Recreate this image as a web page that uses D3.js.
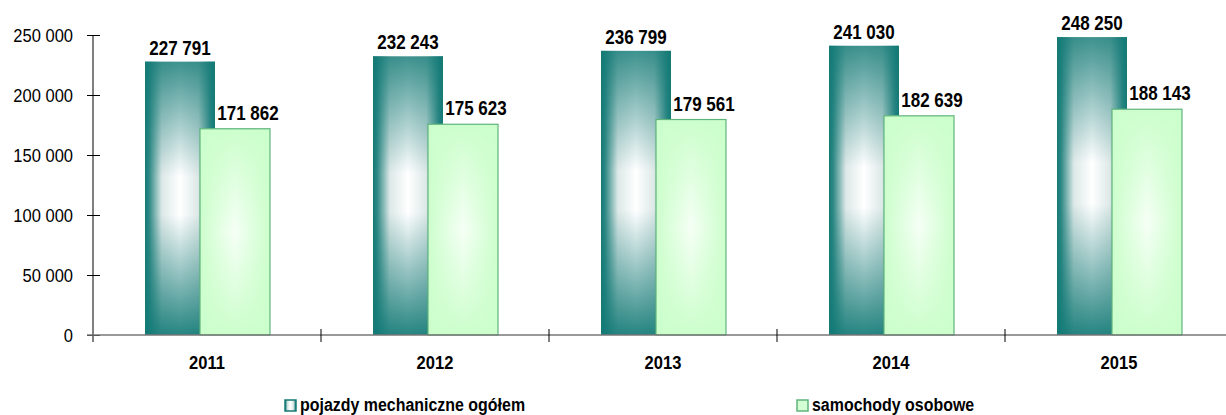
<!DOCTYPE html>
<html>
<head>
<meta charset="utf-8">
<script src="https://cdn.jsdelivr.net/npm/d3@7"></script>
<style>
  body { margin: 0; background: #fff; }
  text { font-family: "Liberation Sans", Arial, sans-serif; }
</style>
</head>
<body>
<script>
var width = 1226;
var height = 415;

var years = ["2011", "2012", "2013", "2014", "2015"];
var pojazdy = [227791, 232243, 236799, 241030, 248250];
var samochody = [171862, 175623, 179561, 182639, 188143];
var yTicks = [0, 50000, 100000, 150000, 200000, 250000];
var seriesNames = ["pojazdy mechaniczne ogółem", "samochody osobowe"];

var fmt = function (v) {
  return d3.format(",")(v).replace(/,/g, " ");
};

var x = d3.scaleBand().domain(years).range([93, 1233]);
var y = d3.scaleLinear().domain([0, 250000]).range([335, 35]);

var svg = d3.select("body").append("svg")
  .attr("width", width)
  .attr("height", height);

var defs = svg.append("defs");
var teal = "#137a76";
var mint = "#ccfecc";

// dark bar: teal at the edges, white in the middle (hourglass look)
var gh = defs.append("linearGradient").attr("id", "tealH")
  .attr("x1", 0).attr("x2", 1).attr("y1", 0).attr("y2", 0);
[[0, teal], [0.06, "#2f8985"], [0.24, "#dce8e7"], [0.5, "#ffffff"], [0.76, "#dce8e7"], [0.94, "#2f8985"], [1, teal]]
  .forEach(function (s) { gh.append("stop").attr("offset", s[0]).attr("stop-color", s[1]); });

var gv = defs.append("linearGradient").attr("id", "tealV")
  .attr("x1", 0).attr("x2", 0).attr("y1", 0).attr("y2", 1);
[[0, 0.82], [0.42, 0], [0.56, 0], [1, 0.92]]
  .forEach(function (s) {
    gv.append("stop").attr("offset", s[0]).attr("stop-color", teal).attr("stop-opacity", s[1]);
  });

var lh = defs.append("linearGradient").attr("id", "greenH")
  .attr("x1", 0).attr("x2", 1).attr("y1", 0).attr("y2", 0);
[[0, mint], [0.5, "#f6fff6"], [1, mint]]
  .forEach(function (s) { lh.append("stop").attr("offset", s[0]).attr("stop-color", s[1]); });

var lv = defs.append("linearGradient").attr("id", "greenV")
  .attr("x1", 0).attr("x2", 0).attr("y1", 0).attr("y2", 1);
[[0, 1], [0.5, 0], [1, 1]]
  .forEach(function (s) {
    lv.append("stop").attr("offset", s[0]).attr("stop-color", mint).attr("stop-opacity", s[1]);
  });

var barW = 70;

function bars(values, off, fills, stroke) {
  var g = svg.append("g").selectAll("g")
    .data(years)
    .enter().append("g");
  fills.forEach(function (f, k) {
    var r = g.append("rect")
      .attr("x", function (d) { return x(d) + x.bandwidth() / 2 + off; })
      .attr("y", function (d, i) { return y(values[i]); })
      .attr("width", barW)
      .attr("height", function (d, i) { return y(0) - y(values[i]); })
      .attr("fill", f);
    if (stroke && k === fills.length - 1) {
      r.attr("stroke", stroke).attr("stroke-width", 1.2);
    }
  });
}
bars(pojazdy, -62, ["url(#tealH)", "url(#tealV)"], null);
bars(samochody, -7, ["url(#greenH)", "url(#greenV)"], "#5fb47c");

// condensed text helper (narrow font is not available)
function narrow(sel, sx) {
  sel.attr("transform", function () {
    var t = d3.select(this);
    var cx = +t.attr("data-x"), cy = +t.attr("data-y");
    return "translate(" + cx + "," + cy + ") scale(" + sx + ",1)";
  });
}

// value labels
svg.append("g").selectAll("text")
  .data(years)
  .enter().append("text")
  .attr("data-x", function (d) { return x(d) + x.bandwidth() / 2 - 27; })
  .attr("data-y", function (d, i) { return y(pojazdy[i]) - 7; })
  .attr("text-anchor", "middle")
  .style("font-size", "20px")
  .style("font-weight", "bold")
  .text(function (d, i) { return fmt(pojazdy[i]); })
  .call(narrow, 0.85);

svg.append("g").selectAll("text")
  .data(years)
  .enter().append("text")
  .attr("data-x", function (d) { return x(d) + x.bandwidth() / 2 + 41; })
  .attr("data-y", function (d, i) { return y(samochody[i]) - 9; })
  .attr("text-anchor", "middle")
  .style("font-size", "20px")
  .style("font-weight", "bold")
  .text(function (d, i) { return fmt(samochody[i]); })
  .call(narrow, 0.85);

// y axis
var yAxis = svg.append("g")
  .attr("transform", "translate(93,0)")
  .call(d3.axisLeft(y).tickValues(yTicks).tickSize(6).tickPadding(20).tickFormat(fmt));
yAxis.select(".domain").remove();
yAxis.selectAll(".tick line").attr("x1", -6).attr("x2", 7).attr("stroke", "#000");
yAxis.selectAll(".tick text")
  .style("font-size", "19px")
  .attr("fill", "#000")
  .attr("transform", "translate(0,0) scale(0.87,1)")
  .attr("x", -20 / 0.87);
svg.append("line")
  .attr("x1", 93).attr("x2", 93)
  .attr("y1", y(250000)).attr("y2", y(0) + 7)
  .attr("stroke", "#000");

// x axis
svg.append("line")
  .attr("x1", 87).attr("x2", width)
  .attr("y1", y(0)).attr("y2", y(0))
  .attr("stroke", "#777")
  .attr("stroke-width", 1.5);
svg.append("g").selectAll("line")
  .data(years.slice(1))
  .enter().append("line")
  .attr("x1", function (d) { return x(d); })
  .attr("x2", function (d) { return x(d); })
  .attr("y1", y(0) - 6).attr("y2", y(0) + 7)
  .attr("stroke", "#000");

svg.append("g").selectAll("text")
  .data(years)
  .enter().append("text")
  .attr("data-x", function (d) { return x(d) + x.bandwidth() / 2; })
  .attr("data-y", 369)
  .attr("text-anchor", "middle")
  .style("font-size", "19px")
  .style("font-weight", "bold")
  .text(function (d) { return d; })
  .call(narrow, 0.87);

// legend
var legendX = [285, 797];
var legendFill = ["url(#tealH)", "#d4fed4"];
var leg = svg.append("g").selectAll("g")
  .data(seriesNames)
  .enter().append("g")
  .attr("transform", function (d, i) { return "translate(" + legendX[i] + ",400)"; });
leg.append("rect")
  .attr("width", 11).attr("height", 11)
  .attr("fill", function (d, i) { return legendFill[i]; })
  .attr("stroke", function (d, i) { return i === 0 ? teal : "#5fb47c"; })
  .attr("stroke-width", 1.5);
leg.append("text")
  .attr("data-x", 15).attr("data-y", 11)
  .style("font-size", "19px")
  .style("font-weight", "bold")
  .text(function (d) { return d; })
  .call(narrow, 0.84);
</script>
</body>
</html>
